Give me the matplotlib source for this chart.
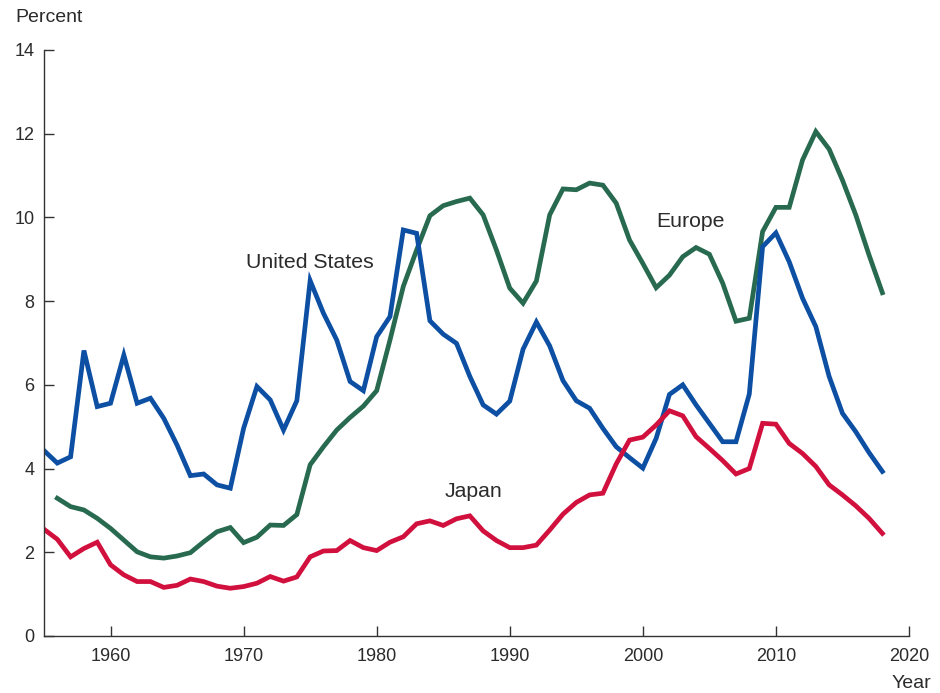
"""
Unemployment rates: United States, Europe, Japan
"""
import matplotlib
matplotlib.use('Agg')
import matplotlib.pyplot as plt

plt.rcParams['font.family'] = ['Liberation Sans', 'DejaVu Sans']

# 연도
years_us = list(range(1955, 2019))
years_eu = list(range(1956, 2019))
years_jp = list(range(1955, 2019))

# 미국 (1955-2018)
us = [4.43, 4.13, 4.28, 6.82, 5.48, 5.56, 6.71, 5.56, 5.68, 5.20,
      4.56, 3.83, 3.87, 3.61, 3.53, 4.96, 5.96, 5.64, 4.92, 5.62,
      8.49, 7.71, 7.07, 6.08, 5.86, 7.15, 7.63, 9.70, 9.62, 7.53,
      7.21, 6.99, 6.20, 5.52, 5.30, 5.61, 6.85, 7.50, 6.93, 6.10,
      5.62, 5.44, 4.96, 4.52, 4.26, 4.01, 4.72, 5.77, 6.00, 5.52,
      5.08, 4.64, 4.64, 5.78, 9.30, 9.63, 8.94, 8.07, 7.39, 6.20,
      5.32, 4.88, 4.38, 3.93]

# 유럽 (1956-2018)
europe = [3.29, 3.09, 3.01, 2.81, 2.57, 2.29, 2.01, 1.89, 1.86,
          1.91, 1.99, 2.25, 2.49, 2.59, 2.23, 2.36, 2.65, 2.64, 2.90,
          4.09, 4.52, 4.92, 5.22, 5.49, 5.86, 7.07, 8.35, 9.22, 10.04,
          10.28, 10.38, 10.46, 10.06, 9.22, 8.31, 7.95, 8.48, 10.06, 10.68,
          10.66, 10.82, 10.77, 10.34, 9.46, 8.90, 8.32, 8.62, 9.06, 9.28,
          9.12, 8.43, 7.52, 7.59, 9.66, 10.24, 10.24, 11.37, 12.05, 11.63,
          10.89, 10.06, 9.10, 8.20]

# 일본 (1955-2018)
japan = [2.55, 2.31, 1.89, 2.09, 2.24, 1.70, 1.46, 1.30, 1.30, 1.16,
         1.21, 1.36, 1.30, 1.19, 1.14, 1.18, 1.26, 1.42, 1.31, 1.41,
         1.89, 2.03, 2.04, 2.28, 2.11, 2.04, 2.24, 2.37, 2.68, 2.75,
         2.64, 2.80, 2.87, 2.51, 2.28, 2.11, 2.11, 2.17, 2.53, 2.91,
         3.19, 3.37, 3.41, 4.11, 4.68, 4.75, 5.04, 5.38, 5.26, 4.76,
         4.48, 4.19, 3.87, 4.00, 5.08, 5.06, 4.60, 4.36, 4.05, 3.61,
         3.37, 3.11, 2.81, 2.45]

x_ticks = [1960, 1970, 1980, 1990, 2000, 2010, 2020]
y_ticks = [0, 2, 4, 6, 8, 10, 12, 14]

text_color = '#2b2b2b'

fig = plt.figure(figsize=(9.4, 6.93), dpi=100)
ax = fig.add_axes([0.0468, 0.0823, 0.9202, 0.8456])

ax.plot(years_eu, europe, color='#286a4f', lw=3.4, solid_joinstyle='miter')
ax.plot(years_us, us, color='#0c4fa3', lw=3.4, solid_joinstyle='miter')
ax.plot(years_jp, japan, color='#d1103e', lw=3.4, solid_joinstyle='miter')

ax.set_xlim(1955, 2020)
ax.set_ylim(0, 14)
ax.set_xticks(x_ticks)
ax.set_yticks(y_ticks)

for s in ['top', 'right']:
    ax.spines[s].set_visible(False)
for s in ['left', 'bottom']:
    ax.spines[s].set_color('#333333')
    ax.spines[s].set_linewidth(1.0)

ax.tick_params(direction='in', length=7, width=1.0, colors='#333333',
               labelcolor=text_color, labelsize=13)
ax.tick_params(axis='x', pad=9)
ax.tick_params(axis='y', pad=7)

# 라벨
ax.text(1975.0, 8.93, 'United States', ha='center', va='center',
        fontsize=15.3, color=text_color)
ax.text(2003.6, 9.9, 'Europe', ha='center', va='center',
        fontsize=15.3, color=text_color)
ax.text(1987.3, 3.45, 'Japan', ha='center', va='center',
        fontsize=15.3, color=text_color)

fig.text(15 / 940, 1 - 17 / 693, 'Percent', ha='left', va='center',
         fontsize=14, color=text_color)
fig.text(911 / 940, 1 - 683 / 693, 'Year', ha='center', va='center',
         fontsize=14, color=text_color)

fig.savefig('out.png', dpi=100)
